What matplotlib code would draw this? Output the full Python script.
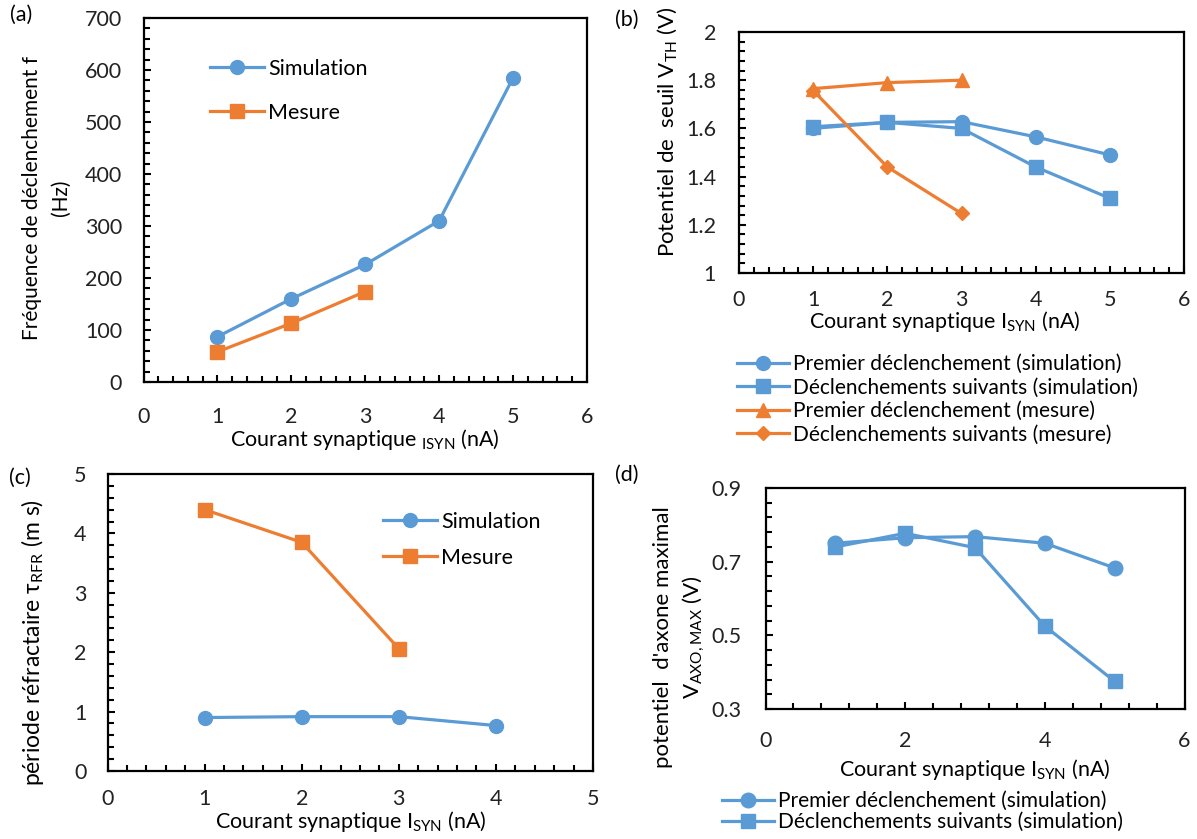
import matplotlib
matplotlib.use("Agg")
import matplotlib.pyplot as plt
from matplotlib.ticker import MultipleLocator, FuncFormatter

plt.rcParams['font.family'] = ['Lato', 'DejaVu Sans']
plt.rcParams['mathtext.fontset'] = 'custom'
plt.rcParams['mathtext.rm'] = 'Lato'
plt.rcParams['mathtext.it'] = 'Lato:italic'
plt.rcParams['mathtext.bf'] = 'Lato:bold'

BLUE = '#5B9BD5'
ORANGE = '#ED7D31'

# ---------------- data ----------------
# (a) firing frequency
a_x_sim = [1, 2, 3, 4, 5]
a_sim = [87, 160, 226, 310, 585]
a_x_mes = [1, 2, 3]
a_mes = [58, 113, 174]

# (b) threshold potential
b_x_sim = [1, 2, 3, 4, 5]
b_first_sim = [1.60, 1.625, 1.628, 1.565, 1.49]
b_next_sim = [1.607, 1.625, 1.60, 1.44, 1.31]
b_x_mes = [1, 2, 3]
b_first_mes = [1.765, 1.79, 1.80]
b_next_mes = [1.757, 1.44, 1.247]

# (c) refractory period
c_x_sim = [1, 2, 3, 4]
c_sim = [0.90, 0.915, 0.915, 0.765]
c_x_mes = [1, 2, 3]
c_mes = [4.40, 3.85, 2.06]

# (d) maximum axon potential
d_x = [1, 2, 3, 4, 5]
d_first = [0.75, 0.765, 0.768, 0.75, 0.683]
d_next = [0.74, 0.777, 0.738, 0.525, 0.375]

W, H = 1197, 839
fig = plt.figure(figsize=(W / 100, H / 100), dpi=100)


def px_axes(x0, y0, x1, y1):
    return fig.add_axes([x0 / W, 1 - y1 / H, (x1 - x0) / W, (y1 - y0) / H])


def fx(x):
    return x / W


def fy(y):
    return 1 - y / H


TICK_FS = 15.5
LAB_FS = 15.5
LEG_FS = 15.5
LW = 2.3
fmt = FuncFormatter(lambda v, p: f'{v:g}')


def style(ax, xlim, ylim, xmaj, xmin, ymaj, ymin, xpad, ypad, yoff=0.0, yminoff=0.0):
    ax.set_xlim(*xlim)
    ax.set_ylim(*ylim)
    ax.xaxis.set_major_locator(MultipleLocator(xmaj))
    ax.xaxis.set_minor_locator(MultipleLocator(xmin))
    ax.yaxis.set_major_locator(MultipleLocator(ymaj, offset=yoff))
    ax.yaxis.set_minor_locator(MultipleLocator(ymin, offset=yminoff))
    ax.yaxis.set_major_formatter(fmt)
    ax.tick_params(which='both', direction='in', top=False, right=False,
                   width=1.5, color='black', labelsize=TICK_FS,
                   labelcolor='#222222')
    ax.tick_params(axis='x', pad=xpad)
    ax.tick_params(axis='y', pad=ypad)
    ax.tick_params(which='major', length=5)
    ax.tick_params(which='minor', length=4)
    for s in ax.spines.values():
        s.set_linewidth(1.6)
        s.set_color('black')


def plot(ax, x, y, color, marker, ms, label):
    ax.plot(x, y, color=color, lw=LW, marker=marker, ms=ms,
            markerfacecolor=color, markeredgecolor=color, label=label,
            clip_on=False)


def legend(ax, x0, ytop, spacing, fs=LEG_FS, hl=2.5):
    ax.legend(loc='upper left', bbox_to_anchor=(fx(x0), fy(ytop)),
              bbox_transform=fig.transFigure, frameon=False, fontsize=fs,
              handlelength=hl, handletextpad=0.2, labelspacing=spacing,
              borderpad=0, borderaxespad=0)


# ---------------- (a) ----------------
axa = px_axes(143.5, 18, 587, 382)
style(axa, (0, 6), (0, 700), 1, 0.2, 100, 20, xpad=18, ypad=15.5)
plot(axa, a_x_sim, a_sim, BLUE, 'o', 10, 'Simulation')
plot(axa, a_x_mes, a_mes, ORANGE, 's', 10, 'Mesure')
legend(axa, 210, 59, 1.1)
axa.set_xlabel('Courant synaptique $_{\\mathrm{ISYN}}$ (nA)', fontsize=LAB_FS, va='center')
axa.xaxis.set_label_coords(0.5, (382 - 439) / 364)
fig.text(fx(32), fy(198), 'Fréquence de déclenchement f', rotation=90,
         ha='center', va='center', fontsize=15)
fig.text(fx(61), fy(198), '(Hz)', rotation=90, ha='center', va='center',
         fontsize=15)
fig.text(fx(21), fy(15), '(a)', ha='center', va='center', fontsize=LAB_FS)

# ---------------- (b) ----------------
axb = px_axes(739, 32, 1184, 273)
style(axb, (0, 6), (1, 2), 1, 0.2, 0.2, 0.04, xpad=12.5, ypad=16.5)
plot(axb, b_x_sim, b_first_sim, BLUE, 'o', 10, 'Premier déclenchement (simulation)')
plot(axb, b_x_sim, b_next_sim, BLUE, 's', 10, 'Déclenchements suivants (simulation)')
plot(axb, b_x_mes, b_first_mes, ORANGE, '^', 9.5, 'Premier déclenchement (mesure)')
plot(axb, b_x_mes, b_next_mes, ORANGE, 'D', 7, 'Déclenchements suivants (mesure)')
legend(axb, 737, 354, 0.17, fs=15)
axb.set_xlabel('Courant synaptique I$_{\\mathrm{SYN}}$ (nA)', fontsize=LAB_FS, va='center')
axb.xaxis.set_label_coords((945 - 739) / 445, (273 - 321) / 241)
fig.text(fx(667), fy(132), 'Potentiel de  seuil V$_{\\mathrm{TH}}$ (V)', rotation=90,
         ha='center', va='center', fontsize=16)
fig.text(fx(627), fy(20), '(b)', ha='center', va='center', fontsize=LAB_FS)

# ---------------- (c) ----------------
axc = px_axes(107.5, 474, 593, 771)
style(axc, (0, 5), (0, 5), 1, 0.2, 1, 0.2, xpad=13, ypad=15)
plot(axc, c_x_sim, c_sim, BLUE, 'o', 10, 'Simulation')
plot(axc, c_x_mes, c_mes, ORANGE, 's', 10, 'Mesure')
legend(axc, 383, 512, 0.72)
axc.set_xlabel('Courant synaptique I$_{\\mathrm{SYN}}$ (nA)', fontsize=LAB_FS, va='center')
axc.xaxis.set_label_coords(0.5, (771 - 821) / 297)
fig.text(fx(33), fy(643), 'période réfractaire τ$_{\\mathrm{RFR}}$ (m s)', rotation=90,
         ha='center', va='center', fontsize=16.5)
fig.text(fx(20), fy(478), '(c)', ha='center', va='center', fontsize=LAB_FS)

# ---------------- (d) ----------------
axd = px_axes(765.5, 488, 1184.5, 709)
style(axd, (0, 6), (0.3, 0.9), 2, 0.4, 0.2, 0.04, xpad=16, ypad=17.5,
      yoff=0.1, yminoff=0.02)
plot(axd, d_x, d_first, BLUE, 'o', 10.5, 'Premier déclenchement (simulation)')
plot(axd, d_x, d_next, BLUE, 's', 10.5, 'Déclenchements suivants (simulation)')
legend(axd, 722, 791, 0.05, fs=15)
axd.set_xlabel('Courant synaptique I$_{\\mathrm{SYN}}$ (nA)', fontsize=LAB_FS, va='center')
axd.xaxis.set_label_coords(0.5, (709 - 769) / 221)
fig.text(fx(663), fy(637), "potentiel  d'axone maximal", rotation=90,
         ha='center', va='center', fontsize=16)
fig.text(fx(694), fy(637), 'V$_{\\mathrm{AXO,MAX}}$ (V)', rotation=90,
         ha='center', va='center', fontsize=16)
fig.text(fx(627), fy(475), '(d)', ha='center', va='center', fontsize=LAB_FS)

fig.savefig('out.png', dpi=100, facecolor='white')
